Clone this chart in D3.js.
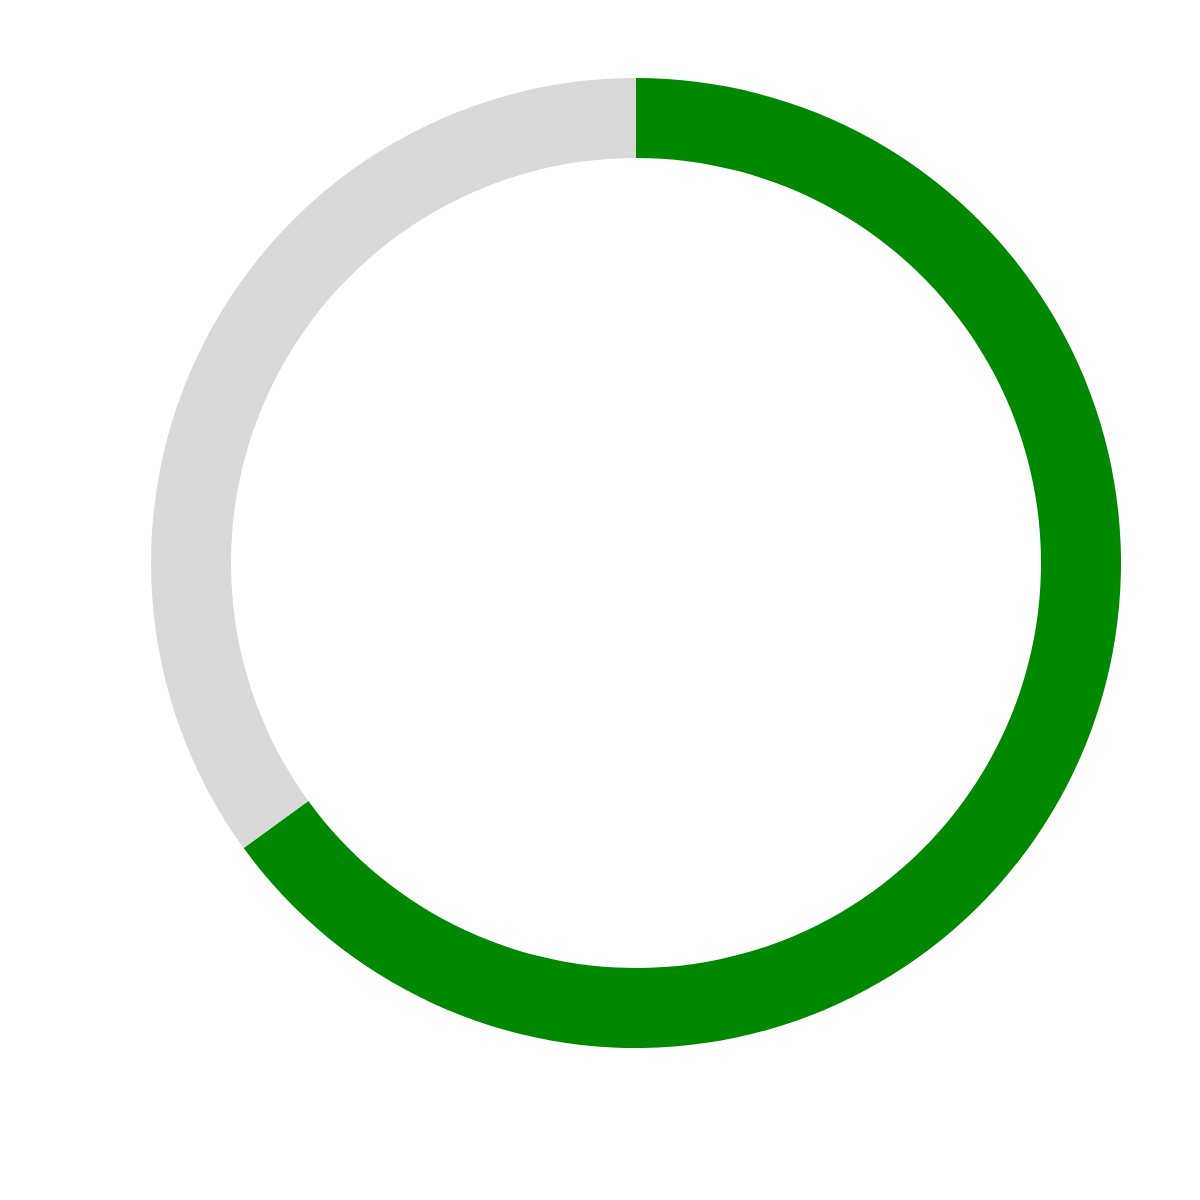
<!DOCTYPE html>
<html>
<head>
<meta charset="utf-8">
<script src="https://cdn.jsdelivr.net/npm/d3@7"></script>
<style>
  html, body { margin: 0; padding: 0; background: #ffffff; }
  svg { display: block; }
</style>
</head>
<body>
<svg id="chart" width="1200" height="1200"></svg>
<script>
const categories = ["Complete", "Remaining"];
const values = [65, 35];
const colors = ["#008800", "#d9d9d9"];

const svg = d3.select("#chart");
const cx = 636, cy = 563;
const outerR = 485, innerR = 405;

const pie = d3.pie().sort(null).value(d => d.value);
const arc = d3.arc().innerRadius(innerR).outerRadius(outerR);

const data = categories.map((c, i) => ({ name: c, value: values[i] }));
const color = d3.scaleOrdinal().domain(categories).range(colors);

svg.append("g")
  .attr("transform", `translate(${cx},${cy})`)
  .selectAll("path")
  .data(pie(data))
  .join("path")
  .attr("d", arc)
  .attr("fill", d => color(d.data.name));
</script>
</body>
</html>
